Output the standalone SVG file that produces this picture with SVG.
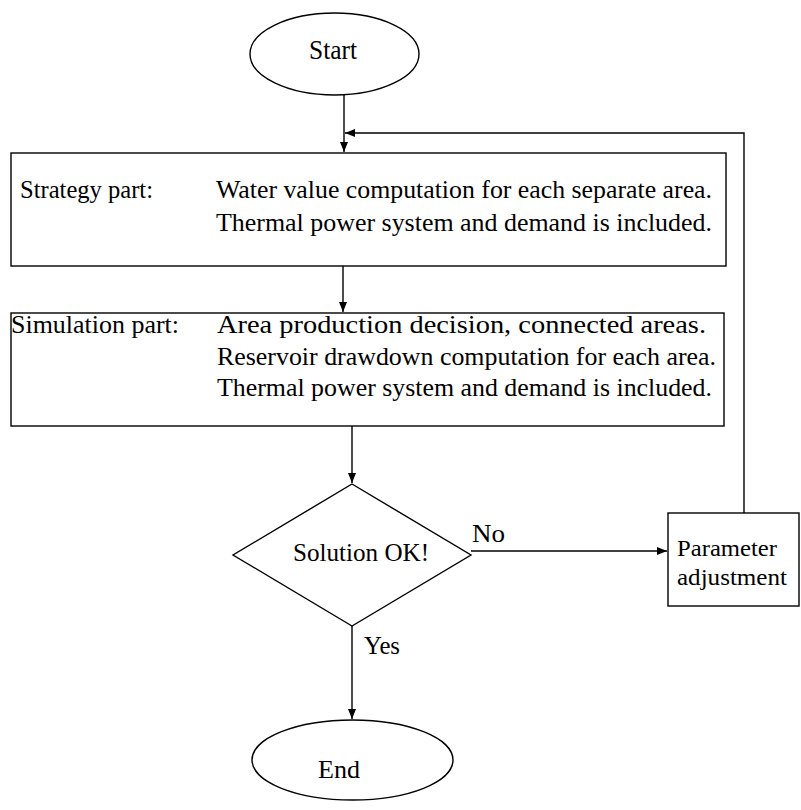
<svg xmlns="http://www.w3.org/2000/svg" width="801" height="810" viewBox="0 0 801 810">
  <style>
    .shape { fill: #ffffff; stroke: #000000; stroke-width: 1.4; }
    .line { fill: none; stroke: #000000; stroke-width: 1.4; }
    .txt { font-family: "Liberation Serif", "Times New Roman", serif; font-size: 26px; fill: #000000; }
    .small { font-size: 24px; }
    .mid { text-anchor: middle; }
  </style>
  <defs>
    <marker id="arrow" viewBox="0 0 10 8" refX="10" refY="4" markerWidth="10" markerHeight="8" markerUnits="userSpaceOnUse" orient="auto">
      <path d="M0,0 L10,4 L0,8 Z" fill="#000000"/>
    </marker>
  </defs>

  <rect width="801" height="810" fill="#ffffff"/>

  <g id="connectors">
    <line class="line" x1="344" y1="95" x2="344" y2="152" marker-end="url(#arrow)"/>
    <line class="line" x1="343" y1="266" x2="343" y2="312" marker-end="url(#arrow)"/>
    <line class="line" x1="352" y1="426" x2="352" y2="483" marker-end="url(#arrow)"/>
    <line class="line" x1="471" y1="551" x2="667" y2="551" marker-end="url(#arrow)"/>
    <line class="line" x1="352" y1="626" x2="352" y2="719" marker-end="url(#arrow)"/>
    <polyline class="line" points="744,513 744,133 345,133" marker-end="url(#arrow)"/>
    <text class="txt" x="472" y="542" textLength="33" lengthAdjust="spacingAndGlyphs">No</text>
    <text class="txt" x="364" y="654" textLength="36" lengthAdjust="spacingAndGlyphs">Yes</text>
  </g>

  <g id="start">
    <ellipse class="shape" cx="334.5" cy="54" rx="84.5" ry="41"/>
    <text class="txt mid" x="333" y="59" style="font-size:28px" textLength="48" lengthAdjust="spacingAndGlyphs">Start</text>
  </g>

  <g id="strategy">
    <rect class="shape" x="11" y="153" width="715" height="113"/>
    <text class="txt" x="20" y="198" textLength="133" lengthAdjust="spacingAndGlyphs">Strategy part:</text>
    <text class="txt" x="216" y="198" textLength="496" lengthAdjust="spacingAndGlyphs">Water value computation for each separate area.</text>
    <text class="txt" x="216" y="231" textLength="496" lengthAdjust="spacingAndGlyphs">Thermal power system and demand is included.</text>
  </g>

  <g id="simulation">
    <rect class="shape" x="11" y="313" width="713" height="113"/>
    <text class="txt" x="11" y="333" textLength="168" lengthAdjust="spacingAndGlyphs">Simulation part:</text>
    <text class="txt" x="217" y="333" textLength="489" lengthAdjust="spacingAndGlyphs">Area production decision, connected areas.</text>
    <text class="txt" x="217" y="365" textLength="499" lengthAdjust="spacingAndGlyphs">Reservoir drawdown computation for each area.</text>
    <text class="txt" x="217" y="396" textLength="495" lengthAdjust="spacingAndGlyphs">Thermal power system and demand is included.</text>
  </g>

  <g id="decision">
    <polygon class="shape" points="352,484 471,555 352,626 233,555"/>
    <text class="txt mid" x="361" y="561" textLength="136" lengthAdjust="spacingAndGlyphs">Solution OK!</text>
  </g>

  <g id="adjustment">
    <rect class="shape" x="668" y="513" width="131" height="93"/>
    <text class="txt small" x="677" y="556" textLength="100" lengthAdjust="spacingAndGlyphs">Parameter</text>
    <text class="txt small" x="677" y="585" textLength="110" lengthAdjust="spacingAndGlyphs">adjustment</text>
  </g>

  <g id="end">
    <ellipse class="shape" cx="352.5" cy="760" rx="100.5" ry="40"/>
    <text class="txt mid" x="339" y="778" textLength="42" lengthAdjust="spacingAndGlyphs">End</text>
  </g>
</svg>
